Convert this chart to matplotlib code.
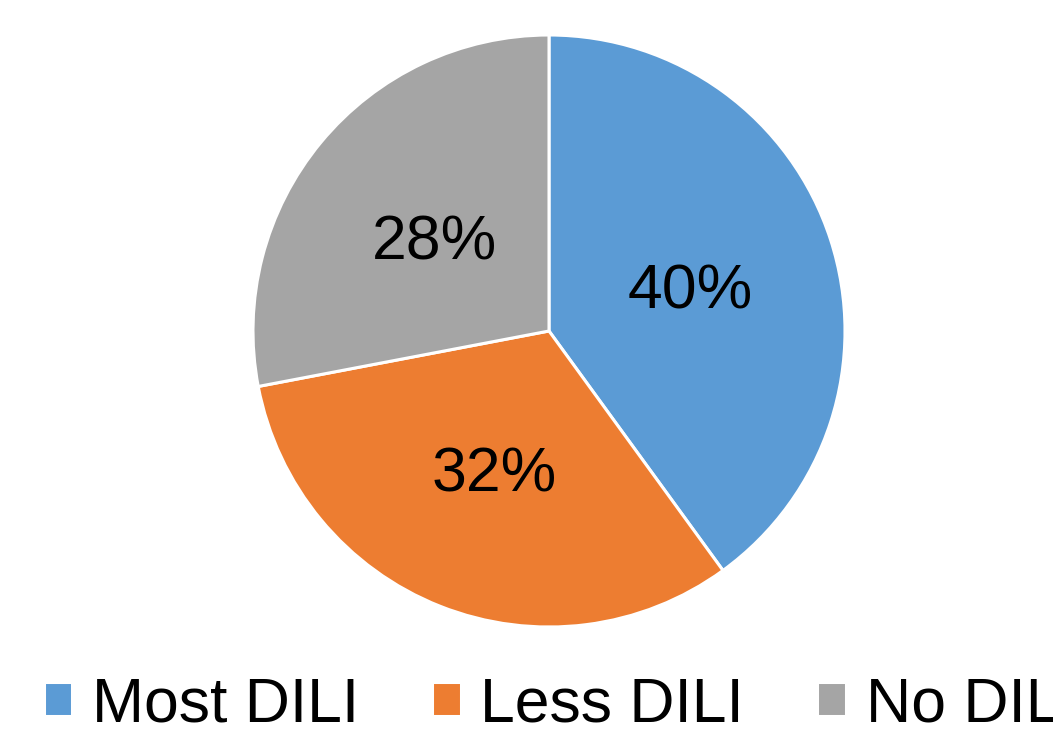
import matplotlib
matplotlib.use("Agg")
import matplotlib.pyplot as plt

categories = ["Most DILI", "Less DILI", "No DILI"]
values = [40, 32, 28]
colors = ["#5B9BD5", "#ED7D31", "#A5A5A5"]

plt.rcParams['font.family'] = ['Liberation Sans', 'DejaVu Sans']

W, H = 1053, 733
fig = plt.figure(figsize=(W / 100, H / 100), dpi=100)
cx, cy, r = 549, 331, 296
ax = fig.add_axes([(cx - r) / W, (H - cy - r) / H, 2 * r / W, 2 * r / H])

wedges, texts, autotexts = ax.pie(
    values, colors=colors, startangle=90, counterclock=False,
    autopct='%1.0f%%', pctdistance=0.5, radius=1,
    wedgeprops=dict(edgecolor='white', linewidth=2.2),
    textprops=dict(fontsize=45, color='black'))
for t in autotexts:
    t.set_va('center_baseline')
ax.set_xlim(-1, 1)
ax.set_ylim(-1, 1)
ax.set_aspect('equal')
ax.axis('off')

leg = fig.legend(wedges, categories, loc='lower left',
                 bbox_to_anchor=(44 / W, 1 - 734 / H), ncol=3, frameon=False,
                 fontsize=45, handlelength=0.45, handleheight=0.45,
                 handletextpad=0.32, columnspacing=1.17, borderpad=0,
                 borderaxespad=0)

fig.savefig("out.png", dpi=100)
